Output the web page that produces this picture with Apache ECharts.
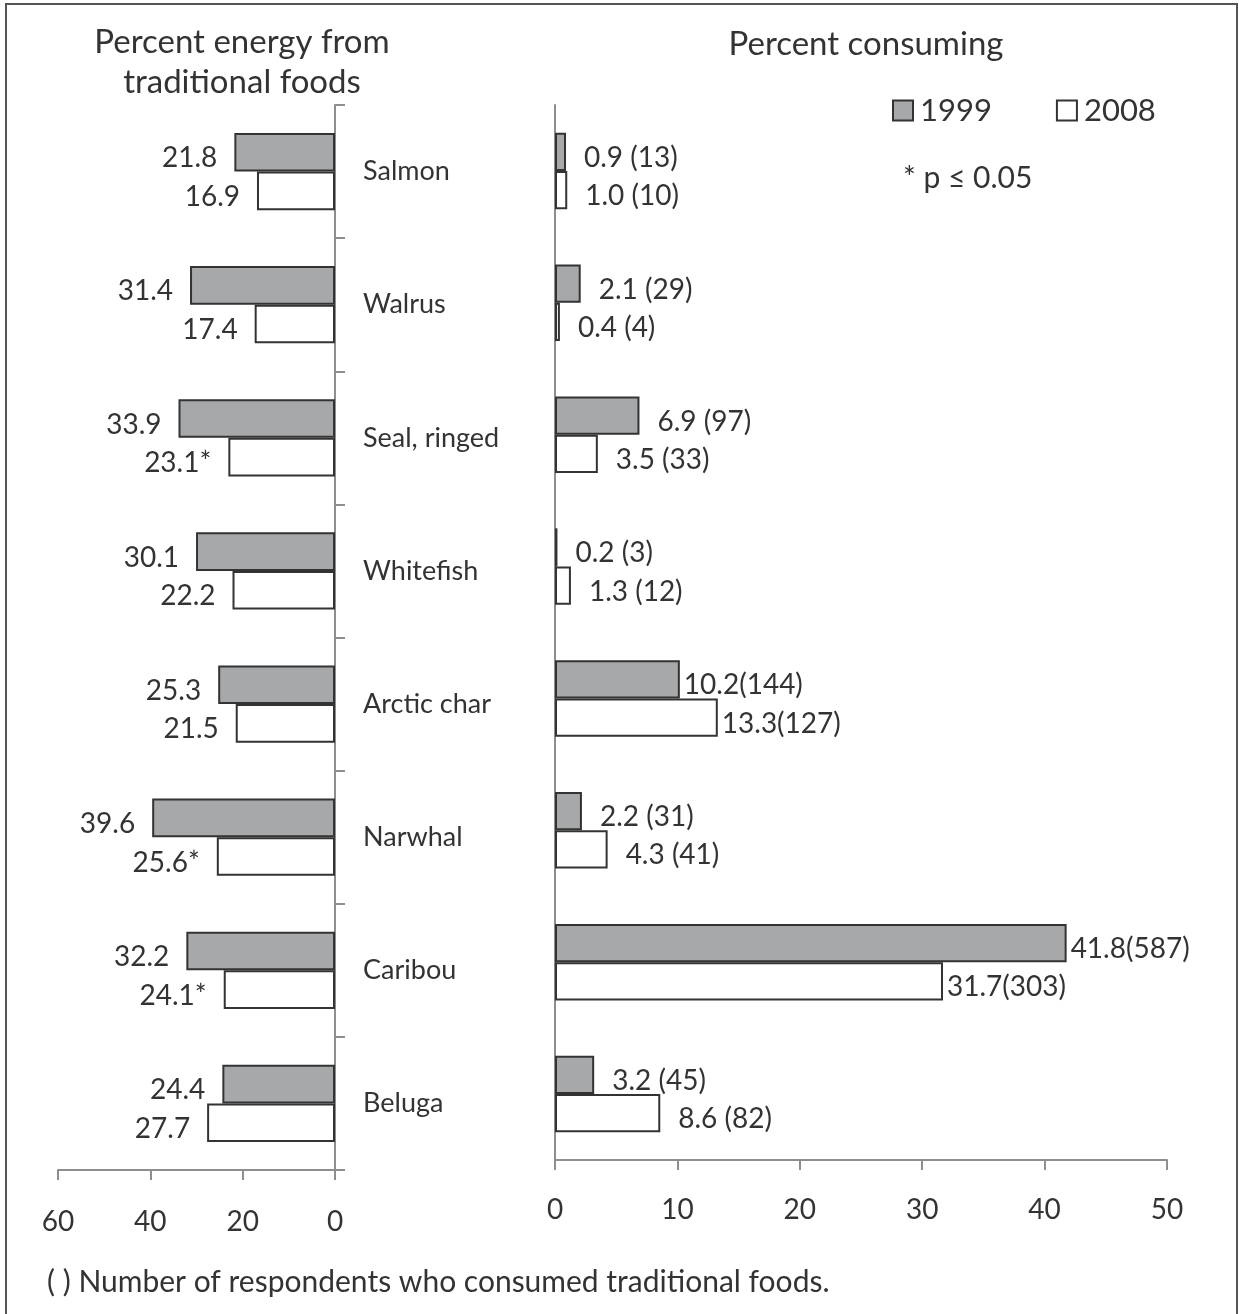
<!DOCTYPE html>
<html>
<head>
<meta charset="utf-8">
<script src="https://cdn.jsdelivr.net/npm/echarts@6/dist/echarts.min.js"></script>
<style>
html,body{margin:0;padding:0;background:#fff;}
#chart{width:1239px;height:1314px;}
</style>
</head>
<body>
<div id="chart"></div>
<script>
const categories = ['Salmon', 'Walrus', 'Seal, ringed', 'Whitefish', 'Arctic char', 'Narwhal', 'Caribou', 'Beluga'];
const energy1999 = [21.8, 31.4, 33.9, 30.1, 25.3, 39.6, 32.2, 24.4];
const energy2008 = [16.9, 17.4, 23.1, 22.2, 21.5, 25.6, 24.1, 27.7];
const energy2008Significant = [false, false, true, false, false, true, true, false];
const consuming1999 = [0.9, 2.1, 6.9, 0.2, 10.2, 2.2, 41.8, 3.2];
const respondents1999 = [13, 29, 97, 3, 144, 31, 587, 45];
const consuming2008 = [1.0, 0.4, 3.5, 1.3, 13.3, 4.3, 31.7, 8.6];
const respondents2008 = [10, 4, 33, 12, 127, 41, 303, 82];
const energyAxis = { min: 0, max: 60, interval: 20 };
const consumingAxis = { min: 0, max: 50, interval: 10 };

const FONT = 'Lato';
const TXT = '#333';
const AXIS = '#8e8e8e';
const GRAY = '#a7a8aa';

const chart = echarts.init(document.getElementById('chart'));

function consumingLabel(v, n) {
  return v.toFixed(1) + (v < 10 ? ' ' : '') + '(' + n + ')';
}
function rightData(values, counts) {
  return values.map((v, i) => ({
    value: v,
    label: { formatter: consumingLabel(v, counts[i]), distance: v < 10 ? 18 : 4 }
  }));
}

const valueLabelBase = { show: true, fontSize: 28, color: TXT, fontFamily: FONT, offset: [0, 6] };

const option = {
  animation: false,
  textStyle: { fontFamily: FONT },
  legend: {
    left: 887, top: 90,
    itemWidth: 20, itemHeight: 20, itemGap: 64,
    icon: 'rect',
    textStyle: { fontSize: 31, color: TXT, fontFamily: FONT, padding: [0, 0, 0, 2] },
    data: ['1999', '2008']
  },
  grid: [
    { left: 58, right: 1239 - 335, top: 105, bottom: 1314 - 1170, containLabel: false },
    { left: 555, right: 1239 - 1167, top: 105, bottom: 1314 - 1160, containLabel: false }
  ],
  xAxis: [
    {
      gridIndex: 0, type: 'value', inverse: true,
      min: energyAxis.min, max: energyAxis.max, interval: energyAxis.interval,
      axisLine: { show: true, lineStyle: { color: AXIS, width: 2 } },
      axisTick: { show: true, length: 10, lineStyle: { color: AXIS, width: 2 } },
      axisLabel: { fontSize: 28, color: TXT, margin: 38, fontFamily: FONT },
      splitLine: { show: false }
    },
    {
      gridIndex: 1, type: 'value',
      min: consumingAxis.min, max: consumingAxis.max, interval: consumingAxis.interval,
      axisLine: { show: true, lineStyle: { color: AXIS, width: 2 } },
      axisTick: { show: true, length: 10, lineStyle: { color: AXIS, width: 2 } },
      axisLabel: { fontSize: 28, color: TXT, margin: 36, fontFamily: FONT },
      splitLine: { show: false }
    }
  ],
  yAxis: [
    {
      gridIndex: 0, type: 'category', data: categories, inverse: true, position: 'right',
      axisLine: { show: true, lineStyle: { color: AXIS, width: 2 } },
      axisTick: { show: true, length: 10, lineStyle: { color: AXIS, width: 2 } },
      axisLabel: { fontSize: 27, color: TXT, margin: 28, align: 'left', fontFamily: FONT }
    },
    {
      gridIndex: 1, type: 'category', data: categories, inverse: true, position: 'left',
      axisLine: { show: true, lineStyle: { color: AXIS, width: 2 } },
      axisTick: { show: false },
      axisLabel: { show: false }
    }
  ],
  series: [
    {
      name: '1999', type: 'bar', xAxisIndex: 0, yAxisIndex: 0,
      data: energy1999, barGap: '0%', barCategoryGap: '42%',
      itemStyle: { color: GRAY, borderColor: '#333', borderWidth: 2 },
      label: Object.assign({}, valueLabelBase, { position: 'left', distance: 17, formatter: p => p.value.toFixed(1) })
    },
    {
      name: '2008', type: 'bar', xAxisIndex: 0, yAxisIndex: 0,
      data: energy2008, barGap: '0%', barCategoryGap: '42%',
      itemStyle: { color: '#fff', borderColor: '#333', borderWidth: 2 },
      label: Object.assign({}, valueLabelBase, { position: 'left', distance: 17,
        formatter: p => p.value.toFixed(1) + (energy2008Significant[p.dataIndex] ? '*' : '') })
    },
    {
      name: '1999', type: 'bar', xAxisIndex: 1, yAxisIndex: 1,
      data: rightData(consuming1999, respondents1999), barGap: '0%', barCategoryGap: '42%',
      itemStyle: { color: GRAY, borderColor: '#333', borderWidth: 2 },
      label: Object.assign({}, valueLabelBase, { position: 'right' })
    },
    {
      name: '2008', type: 'bar', xAxisIndex: 1, yAxisIndex: 1,
      data: rightData(consuming2008, respondents2008), barGap: '0%', barCategoryGap: '42%',
      itemStyle: { color: '#fff', borderColor: '#333', borderWidth: 2 },
      label: Object.assign({}, valueLabelBase, { position: 'right' })
    }
  ],
  graphic: [
    { type: 'rect', shape: { x: 6, y: 4, width: 1231, height: 1330 }, style: { fill: 'none', stroke: '#555', lineWidth: 2 }, silent: true },
    { type: 'text', x: 242, y: 42, style: { text: 'Percent energy from', fontSize: 33, fill: TXT, fontFamily: FONT, textAlign: 'center', textVerticalAlign: 'middle' } },
    { type: 'text', x: 242, y: 82, style: { text: 'traditional foods', fontSize: 33, fill: TXT, fontFamily: FONT, textAlign: 'center', textVerticalAlign: 'middle' } },
    { type: 'text', x: 866, y: 44, style: { text: 'Percent consuming', fontSize: 33, fill: TXT, fontFamily: FONT, textAlign: 'center', textVerticalAlign: 'middle' } },
    { type: 'text', x: 903, y: 178, style: { text: '* p ≤ 0.05', fontSize: 30, fill: TXT, fontFamily: FONT, textAlign: 'left', textVerticalAlign: 'middle' } },
    { type: 'text', x: 47, y: 1282, style: { text: '( ) Number of respondents who consumed traditional foods.', fontSize: 30, fill: TXT, fontFamily: FONT, textAlign: 'left', textVerticalAlign: 'middle' } }
  ]
};
chart.setOption(option);
</script>
</body>
</html>
